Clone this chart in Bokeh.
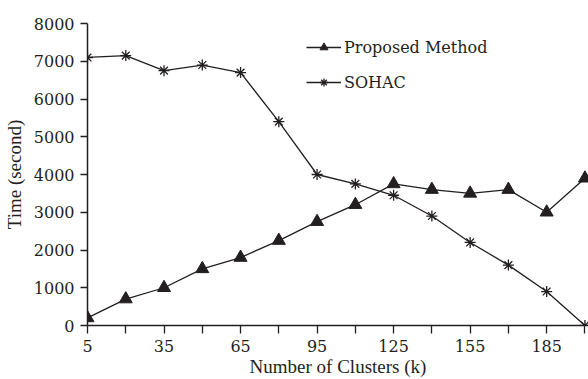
from bokeh.plotting import figure
from bokeh.models import Range1d, FixedTicker, Legend, LegendItem
from bokeh.embed import file_html
from bokeh.resources import INLINE

# Number of clusters (k)
clusters = [5, 20, 35, 50, 65, 80, 95, 110, 125, 140, 155, 170, 185, 200]
# Running time in seconds
proposed_method = [200, 700, 1000, 1500, 1800, 2250, 2750, 3200, 3750, 3600, 3500, 3600, 3000, 3900]
sohac = [7100, 7150, 6750, 6900, 6700, 5400, 4000, 3750, 3450, 2900, 2200, 1600, 900, 0]

x_ticks = clusters
x_labelled = [5, 35, 65, 95, 125, 155, 185]
y_ticks = [0, 1000, 2000, 3000, 4000, 5000, 6000, 7000, 8000]

TITLE_FONT = "Liberation Serif"
LABEL_FONT = "DejaVu Serif"
INK = "#231f20"

p = figure(width=588, height=379, output_backend="svg", toolbar_location=None,
           x_range=Range1d(5, 201.4), y_range=Range1d(0, 8000),
           min_border_left=86, min_border_right=0, min_border_top=23, min_border_bottom=51)
p.outline_line_color = None
p.xgrid.visible = False
p.ygrid.visible = False
p.background_fill_color = "white"
p.border_fill_color = "white"

l1 = p.line(clusters, proposed_method, line_color=INK, line_width=1.3)
m1 = p.scatter(clusters, proposed_method, marker="triangle", size=13,
               fill_color=INK, line_color=INK)
l2 = p.line(clusters, sohac, line_color=INK, line_width=1.3)
m2 = p.scatter(clusters, sohac, marker="asterisk", size=11,
               line_color=INK, line_width=1.3)

for ax in (p.xaxis[0], p.yaxis[0]):
    ax.axis_line_color = INK
    ax.axis_line_width = 1.5
    ax.major_tick_line_color = INK
    ax.major_tick_line_width = 1.3
    ax.major_tick_in = 0
    ax.minor_tick_line_color = None
    ax.major_label_text_font = LABEL_FONT
    ax.major_label_text_font_size = "16px"
    ax.major_label_text_color = INK
    ax.axis_label_text_font = TITLE_FONT
    ax.axis_label_text_font_size = "19px"
    ax.axis_label_text_font_style = "normal"
    ax.axis_label_text_color = INK

p.xaxis.ticker = FixedTicker(ticks=x_ticks)
p.xaxis.major_label_overrides = {t: (str(t) if t in x_labelled else "") for t in x_ticks}
p.xaxis.major_tick_out = 8
p.xaxis.major_label_standoff = 6
p.xaxis.axis_label = "Number of Clusters (k)"
p.xaxis.axis_label_standoff = 1

p.yaxis.ticker = FixedTicker(ticks=y_ticks)
p.yaxis.major_tick_out = 7
p.yaxis.major_label_standoff = 6
p.yaxis.axis_label = "Time (second)"
p.yaxis.axis_label_standoff = 6

legend = Legend(items=[LegendItem(label="Proposed Method", renderers=[l1, m1]),
                       LegendItem(label="SOHAC", renderers=[l2, m2])],
                location=(219, 233), orientation="vertical",
                glyph_width=35, glyph_height=20, label_height=20,
                spacing=15, padding=0, margin=0, label_standoff=3,
                border_line_color=None, background_fill_alpha=0,
                label_text_font=LABEL_FONT, label_text_font_size="16px",
                label_text_color=INK)
p.add_layout(legend, "center")

open("out.html", "w").write(file_html(p, INLINE))
